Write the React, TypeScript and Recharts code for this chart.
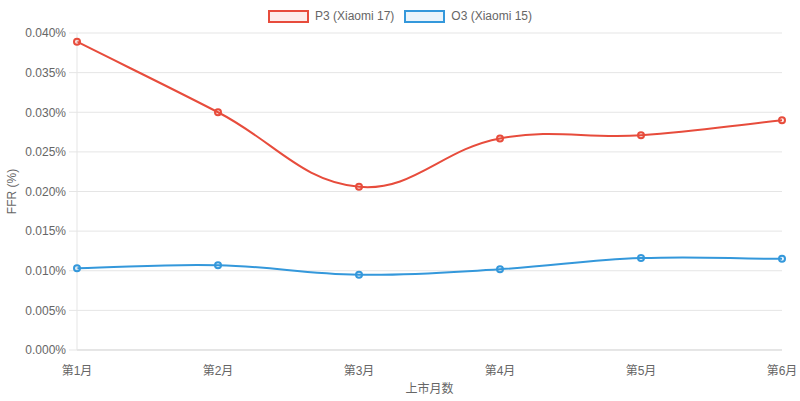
import React from 'react';
import { LineChart, Line, XAxis, YAxis, CartesianGrid, Legend } from 'recharts';

// -- data --
const months = ['第1月', '第2月', '第3月', '第4月', '第5月', '第6月'];
const p3Values = [0.0389, 0.03, 0.0206, 0.0267, 0.0271, 0.029];
const o3Values = [0.0103, 0.0107, 0.0095, 0.0102, 0.0116, 0.0115];
const yTicks = [0, 0.005, 0.01, 0.015, 0.02, 0.025, 0.03, 0.035, 0.04];

const seriesInfo = [
  { key: 'p3', name: 'P3 (Xiaomi 17)', color: '#e74c3c', fill: 'rgba(231,76,60,0.1)' },
  { key: 'o3', name: 'O3 (Xiaomi 15)', color: '#3498db', fill: 'rgba(52,152,219,0.1)' },
];

const data = months.map((m, i) => ({ month: m, p3: p3Values[i], o3: o3Values[i] }));

const FONT = '"Liberation Sans", Arial, "Noto Sans CJK SC", sans-serif';

// spline like chart.js (tension 0.4)
function splineCurve(context: any) {
  let pts: [number, number][] = [];
  return {
    areaStart() {},
    areaEnd() {},
    lineStart() {
      pts = [];
    },
    point(x: number, y: number) {
      pts.push([x, y]);
    },
    lineEnd() {
      const n = pts.length;
      if (!n) return;
      const t = 0.4;
      const cps = pts.map((p, i) => {
        const prev = pts[i - 1] || p;
        const next = pts[i + 1] || p;
        const d01 = Math.hypot(p[0] - prev[0], p[1] - prev[1]);
        const d12 = Math.hypot(next[0] - p[0], next[1] - p[1]);
        let s01 = d01 / (d01 + d12);
        let s12 = d12 / (d01 + d12);
        if (isNaN(s01)) s01 = 0;
        if (isNaN(s12)) s12 = 0;
        const fa = t * s01;
        const fb = t * s12;
        return {
          px: p[0] - fa * (next[0] - prev[0]),
          py: p[1] - fa * (next[1] - prev[1]),
          nx: p[0] + fb * (next[0] - prev[0]),
          ny: p[1] + fb * (next[1] - prev[1]),
        };
      });
      context.moveTo(pts[0][0], pts[0][1]);
      for (let i = 1; i < n; i++) {
        context.bezierCurveTo(cps[i - 1].nx, cps[i - 1].ny, cps[i].px, cps[i].py, pts[i][0], pts[i][1]);
      }
    },
  };
}

const LegendBoxes = () => (
  <div style={{ display: 'flex', justifyContent: 'center', alignItems: 'center', fontFamily: FONT, fontSize: 12, color: '#666' }}>
    {seriesInfo.map((s, i) => (
      <div key={s.key} style={{ display: 'flex', alignItems: 'center', marginLeft: i ? 10 : 0 }}>
        <span
          style={{
            display: 'inline-block',
            width: 37,
            height: 9,
            border: `2px solid ${s.color}`,
            background: s.fill,
            marginRight: 6,
          }}
        />
        <span>{s.name}</span>
      </div>
    ))}
  </div>
);

export default function App() {
  return (
    <div style={{ position: 'absolute', left: 0, top: 0, background: '#fff' }}>
      <LineChart width={800} height={401} data={data} margin={{ top: 33, right: 18, bottom: 0, left: 0 }}>
        <CartesianGrid vertical={false} stroke="#e5e5e5" />
        <XAxis
          dataKey="month"
          tickLine={false}
          tickSize={0}
          tickMargin={16}
          height={51}
          axisLine={{ stroke: '#d9d9d9' }}
          tick={{ fill: '#666', fontSize: 12, fontFamily: FONT }}
          interval={0}
          label={({ viewBox }: any) => (
            <text
              x={viewBox.x + viewBox.width / 2}
              y={viewBox.y + 43}
              textAnchor="middle"
              fill="#666"
              fontSize={12}
              fontFamily={FONT}
            >
              上市月数
            </text>
          )}
        />
        <YAxis
          width={77}
          domain={[0, 0.04]}
          ticks={yTicks}
          interval={0}
          tickSize={8}
          tickMargin={3}
          tickFormatter={(v: number) => `${v.toFixed(3)}%`}
          tickLine={{ stroke: '#e5e5e5' }}
          axisLine={{ stroke: '#e5e5e5' }}
          tick={{ fill: '#666', fontSize: 12, fontFamily: FONT }}
          label={({ viewBox }: any) => {
            const x = 16;
            const y = viewBox.y + viewBox.height / 2;
            return (
              <text
                x={x}
                y={y}
                transform={`rotate(-90 ${x} ${y})`}
                textAnchor="middle"
                fill="#666"
                fontSize={12}
                fontFamily={FONT}
              >
                FFR (%)
              </text>
            );
          }}
        />
        <Legend
          verticalAlign="middle"
          layout="horizontal"
          wrapperStyle={{ top: 9, left: 0, width: 800 }}
          content={() => <LegendBoxes />}
        />
        {seriesInfo.map((s) => (
          <Line
            key={s.key}
            dataKey={s.key}
            name={s.name}
            type={splineCurve as any}
            stroke={s.color}
            strokeWidth={2}
            dot={{ r: 3, stroke: s.color, strokeWidth: 2, fill: s.fill }}
            activeDot={false}
            isAnimationActive={false}
          />
        ))}
      </LineChart>
    </div>
  );
}
